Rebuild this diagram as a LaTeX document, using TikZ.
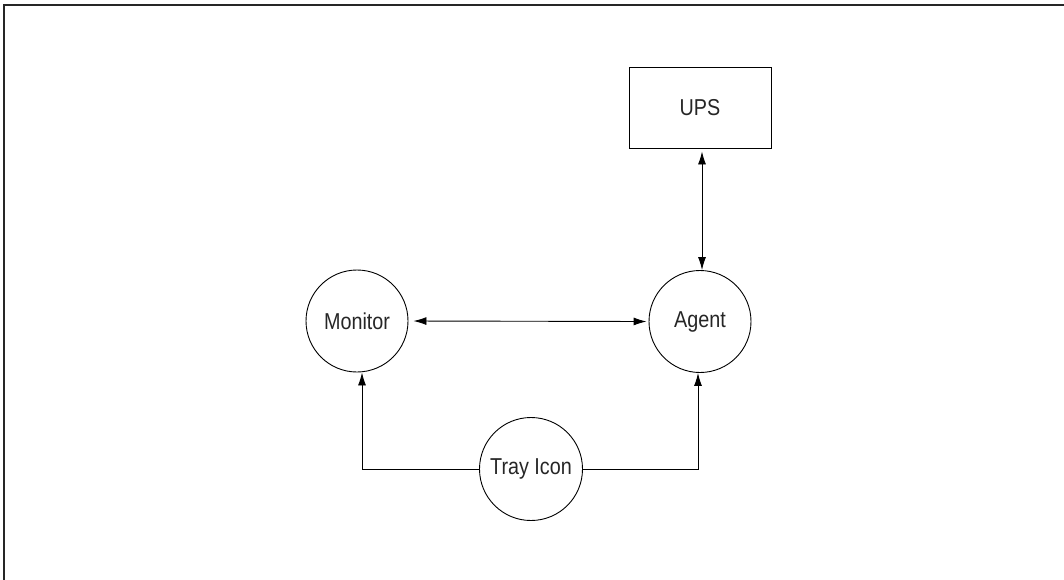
\documentclass[tikz,border=0pt]{standalone}
\usepackage{fontspec}
\setmainfont[FakeStretch=0.86]{Liberation Sans}
\usetikzlibrary{arrows.meta}
\begin{document}
\begin{tikzpicture}[x=1pt,y=-1pt,
  every node/.style={font=\fontsize{23}{27}\selectfont, inner sep=0pt, text=black!85},
  proc/.style={draw, circle, line width=0.9pt, minimum size=102pt},
  box/.style={draw, rectangle, line width=0.9pt, minimum width=142pt, minimum height=81pt},
  conn/.style={line width=0.9pt, {Latex[length=13pt,width=8pt]}-{Latex[length=13pt,width=8pt]}},
  conn1/.style={line width=0.9pt, -{Latex[length=13pt,width=8pt]}}]
\useasboundingbox (0,0) rectangle (1064,579);
\draw[line width=2pt, black!85] (4,580) -- (4,5) -- (1065,5);
\node[box] (ups) at (700,107.5) {UPS};
\node[proc] (monitor) at (357,321) {Monitor};
\node[proc] (agent) at (700,321.5) {Agent};
\node[proc, minimum size=103pt] (tray) at (531,469) {Tray Icon};
\draw[conn, shorten <=3pt] ([xshift=2pt]ups.south) -- ([xshift=2pt]agent.north);
\draw[conn, shorten <=5pt, shorten >=2pt] (monitor.east) -- (agent.west);
\draw[conn1] (tray.west) -| ([xshift=5pt]monitor.south);
\draw[conn1] (tray.east) -| ([xshift=-2pt]agent.south);
\end{tikzpicture}
\end{document}
